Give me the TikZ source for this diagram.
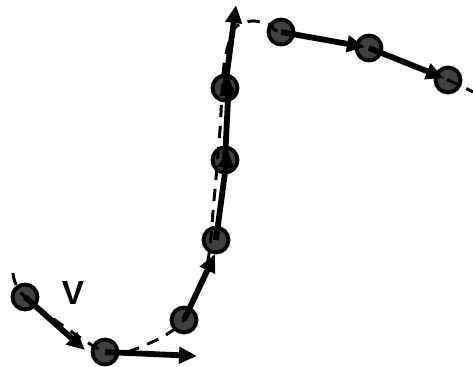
\documentclass[tikz,border=0pt]{standalone}
\usepackage{fontspec}
\setsansfont{Liberation Sans}
\usepackage{tikz}
\usetikzlibrary{arrows.meta}

\begin{document}
\begin{tikzpicture}[
    x=0.02cm, y=-0.02cm,
    particle/.style={circle, draw=black, fill=black!75, line width=2.2pt, minimum size=0.5cm, inner sep=0pt},
    trail/.style={dashed, dash pattern=on 7pt off 5pt, line width=1.7pt},
    velo/.style={-{Triangle[length=0.36cm,width=0.32cm]}, line width=3.3pt}
]
\useasboundingbox (0,0) rectangle (473,366);

% particles along the path
\node (p1) [particle] at (25,297) {};
\node (p2) [particle] at (105,352) {};
\node (p3) [particle] at (184,320) {};
\node (p4) [particle] at (216,240) {};
\node (p5) [particle] at (225,160) {};
\node (p6) [particle] at (225,88) {};
\node (p7) [particle] at (281,32) {};
\node (p8) [particle] at (369,48) {};
\node (p9) [particle] at (448,80) {};

% trajectory
\coordinate (tstart) at (13,273);
\coordinate (tend) at (473,92);
\draw [trail] plot[smooth, tension=0.45] coordinates {(tstart) (p1.center) (p2.center) (150,343) (p3.center) (207,265) (214,200) (220,130) (224,65) (234,29) (252,21) (271,25) (p7.center) (p8.center) (p9.center) (tend)};

% velocity tips
\coordinate (v1) at (85,350);
\coordinate (v2) at (197,356);
\coordinate (v3) at (215,254);
\coordinate (v4) at (228,150);
\coordinate (v5) at (229,78);
\coordinate (v6) at (236,5);
\coordinate (v7) at (365,47);
\coordinate (v8) at (444,78);

\draw [velo] (p1.center) -- (v1);
\draw [velo] (p2.center) -- (v2);
\draw [velo] (p3.center) -- (v3);
\draw [velo] (p4.center) -- (v4);
\draw [velo] (p5.center) -- (v5);
\draw [velo] (p6.center) -- (v6);
\draw [velo] (p7.center) -- (v7);
\draw [velo] (p8.center) -- (v8);

\node (vlabel) at (73,293) {\fontsize{19}{22}\selectfont\sffamily\bfseries V};

\end{tikzpicture}
\end{document}
